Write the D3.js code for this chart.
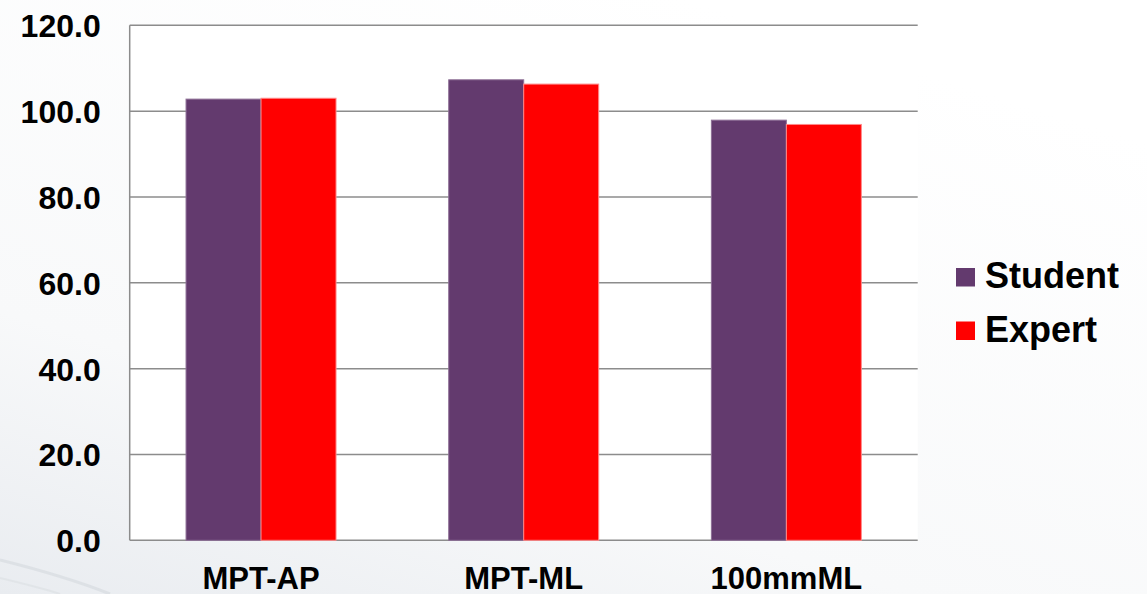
<!DOCTYPE html>
<html>
<head>
<meta charset="utf-8">
<script src="https://cdn.jsdelivr.net/npm/d3@7"></script>
<style>
  html, body { margin: 0; padding: 0; background: #fff; }
  svg { display: block; }
  text { font-family: "Liberation Sans", Arial, sans-serif; font-weight: bold; fill: #000; }
</style>
</head>
<body>
<svg id="chart" width="1147" height="594"></svg>
<script>
// Measurements by category
const categories = ["MPT-AP", "MPT-ML", "100mmML"];
const seriesNames = ["Student", "Expert"];
const studentValues = [102.8, 107.3, 97.9];
const expertValues = [103.0, 106.3, 96.9];
const yTicks = [0, 20, 40, 60, 80, 100, 120];
const colors = ["#633a6e", "#ff0000"];
const strokes = ["#8d6f96", "#ff8a8a"];

const W = 1147, H = 594;
const plot = { left: 129.7, right: 917.7, top: 25.3, bottom: 540.3 };

const svg = d3.select("#chart");

// soft backdrop: white fading to pale grey toward the lower left
const defs = svg.append("defs");
const bg = defs.append("linearGradient").attr("id", "bg")
  .attr("x1", "0").attr("y1", "1").attr("x2", "0.6").attr("y2", "0");
bg.append("stop").attr("offset", "0").attr("stop-color", "#e9ecf0");
bg.append("stop").attr("offset", "0.35").attr("stop-color", "#f8f9fa");
bg.append("stop").attr("offset", "1").attr("stop-color", "#ffffff");
svg.append("rect").attr("width", W).attr("height", H).attr("fill", "url(#bg)");
svg.append("path")
  .attr("d", "M0,560 C40,570 80,582 110,594")
  .attr("fill", "none").attr("stroke", "#d9dde2").attr("stroke-width", 3).attr("opacity", 0.8);
svg.append("path")
  .attr("d", "M0,578 C25,584 45,589 60,594")
  .attr("fill", "none").attr("stroke", "#dfe2e6").attr("stroke-width", 2).attr("opacity", 0.8);

const x = d3.scaleBand()
  .domain(categories)
  .range([plot.left, plot.right])
  .paddingInner(0.429)
  .paddingOuter(0.2145);

const xSub = d3.scaleBand()
  .domain(seriesNames)
  .range([0, x.bandwidth()]);

const y = d3.scaleLinear()
  .domain([0, 120])
  .range([plot.bottom, plot.top]);

// plot area
svg.append("rect")
  .attr("x", plot.left).attr("y", plot.top)
  .attr("width", plot.right - plot.left).attr("height", plot.bottom - plot.top)
  .attr("fill", "#ffffff");

// gridlines
svg.append("g")
  .selectAll("line")
  .data(yTicks)
  .join("line")
  .attr("x1", plot.left).attr("x2", plot.right)
  .attr("y1", d => y(d)).attr("y2", d => y(d))
  .attr("stroke", "#8c8c8c").attr("stroke-width", 1.5);

// bars
const rows = categories.map((c, i) => ({
  category: c,
  values: [studentValues[i], expertValues[i]]
}));

const groups = svg.append("g")
  .selectAll("g")
  .data(rows)
  .join("g")
  .attr("transform", d => `translate(${x(d.category)},0)`);

groups.selectAll("rect")
  .data(d => d.values.map((v, j) => ({ name: seriesNames[j], value: v, j })))
  .join("rect")
  .attr("x", d => xSub(d.name))
  .attr("y", d => y(d.value))
  .attr("width", xSub.bandwidth())
  .attr("height", d => y(0) - y(d.value))
  .attr("fill", d => colors[d.j])
  .attr("stroke", d => strokes[d.j])
  .attr("stroke-width", 1);

// left axis line
svg.append("line")
  .attr("x1", plot.left).attr("x2", plot.left)
  .attr("y1", plot.top).attr("y2", plot.bottom)
  .attr("stroke", "#8c8c8c").attr("stroke-width", 1.5);

// y tick labels
const yAxis = d3.axisLeft(y).tickValues(yTicks).tickFormat(d3.format(".1f")).tickSize(0).tickPadding(29);
const yg = svg.append("g").attr("transform", `translate(${plot.left},0)`).call(yAxis);
yg.select(".domain").remove();
yg.selectAll("text")
  .attr("font-size", 32)
  .attr("font-family", "Liberation Sans, Arial, sans-serif")
  .attr("font-weight", "bold")
  .attr("fill", "#000")
  .attr("dy", "0.36em");

// x labels
const xAxis = d3.axisBottom(x).tickSize(0).tickPadding(0);
const xg = svg.append("g").attr("transform", `translate(0,${plot.bottom})`).call(xAxis);
xg.select(".domain").remove();
xg.selectAll("text")
  .attr("font-size", 31)
  .attr("font-family", "Liberation Sans, Arial, sans-serif")
  .attr("font-weight", "bold")
  .attr("fill", "#000")
  .attr("y", 48.5)
  .attr("dy", 0);

// legend
const legend = svg.append("g").attr("transform", "translate(956,268)");
const items = legend.selectAll("g")
  .data(seriesNames)
  .join("g")
  .attr("transform", (d, i) => `translate(0,${i * 53.5})`);
items.append("rect")
  .attr("width", 19).attr("height", 18.5)
  .attr("fill", (d, i) => colors[i]);
items.append("text")
  .attr("x", 29).attr("y", 20)
  .attr("font-size", 36)
  .text(d => d);
</script>
</body>
</html>
